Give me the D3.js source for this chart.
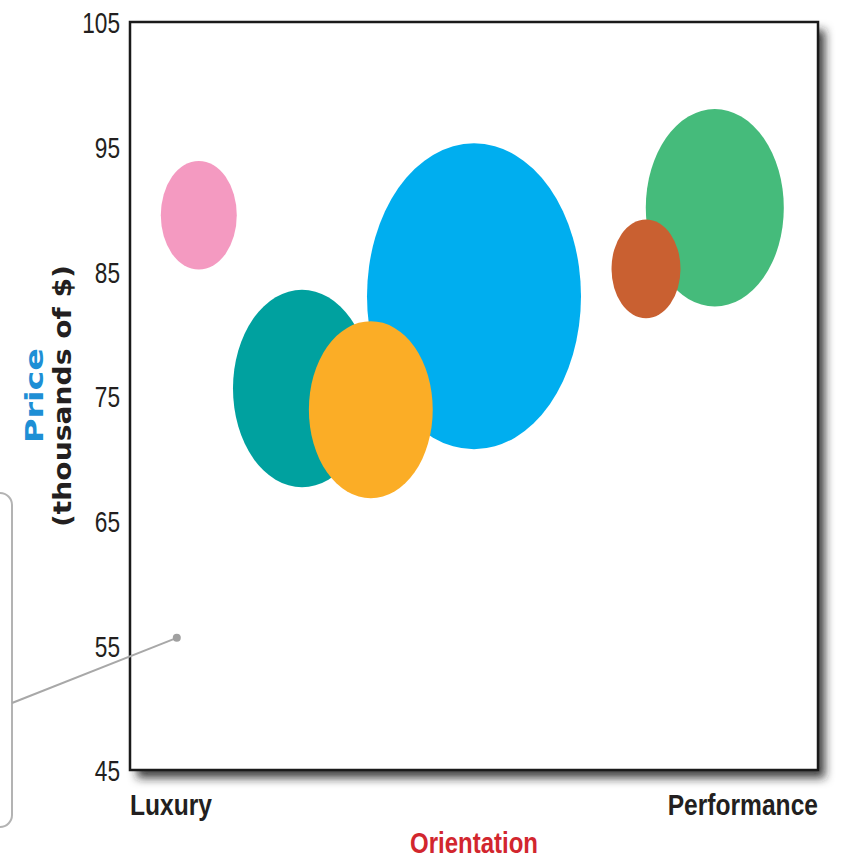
<!DOCTYPE html>
<html>
<head>
<meta charset="utf-8">
<script src="https://cdn.jsdelivr.net/npm/d3@7/dist/d3.min.js"></script>
<style>
  html, body { margin: 0; padding: 0; background: #fff; }
  svg { display: block; }
</style>
</head>
<body>
<svg id="chart" width="843" height="859"></svg>
<script>
// ---- data ----
const brands      = ["A", "B", "C", "D", "E", "F"];
const orientation = [10, 50, 25, 35, 85, 75];             // 0 = Luxury, 100 = Performance
const price       = [89.5, 83.0, 75.6, 73.9, 90.1, 85.2]; // thousands of $
const volume      = [12.6, 100, 41.6, 33.5, 41.6, 10.4];  // relative sales volume (bubble area)
const colors      = ["#f49ac1", "#00aeef", "#00a19f", "#fbad26", "#45bb7b", "#c96031"];
const yTicks      = [45, 55, 65, 75, 85, 95, 105];
const xLabels     = ["Luxury", "Performance"];
const calloutPoint = { orientation: 6.8, price: 55.6 };

// ---- layout ----
const svg = d3.select("#chart");
const M = { left: 130, right: 818, top: 22, bottom: 770 };
const x = d3.scaleLinear().domain([0, 100]).range([M.left, M.right]);
const y = d3.scaleLinear().domain([45, 105]).range([M.bottom, M.top]);
const r = d3.scaleSqrt().domain([0, 100]).range([0, 107]);
const aspect = 1.43;
const sans = "'Liberation Sans', Arial, sans-serif";

// drop shadow filter
const defs = svg.append("defs");
const f = defs.append("filter").attr("id", "shadow")
  .attr("x", "-10%").attr("y", "-10%").attr("width", "130%").attr("height", "130%");
f.append("feDropShadow").attr("dx", 7).attr("dy", 8).attr("stdDeviation", 5)
  .attr("flood-color", "#222").attr("flood-opacity", 0.85);

// callout box (partly off-canvas)
svg.append("rect")
  .attr("x", -40).attr("y", 493).attr("width", 52).attr("height", 334)
  .attr("rx", 12).attr("ry", 12)
  .attr("fill", "none").attr("stroke", "#b3b3b3").attr("stroke-width", 2);

// plot frame with shadow
svg.append("rect")
  .attr("x", M.left).attr("y", M.top)
  .attr("width", M.right - M.left).attr("height", M.bottom - M.top)
  .attr("fill", "#fff").attr("filter", "url(#shadow)");

// bubbles
const data = brands.map((b, i) => ({ b, o: orientation[i], p: price[i], v: volume[i], c: colors[i] }));
svg.append("g").selectAll("ellipse").data(data).join("ellipse")
  .attr("cx", d => x(d.o))
  .attr("cy", d => y(d.p))
  .attr("rx", d => r(d.v))
  .attr("ry", d => r(d.v) * aspect)
  .attr("fill", d => d.c);

// frame stroke on top
svg.append("rect")
  .attr("x", M.left).attr("y", M.top)
  .attr("width", M.right - M.left).attr("height", M.bottom - M.top)
  .attr("fill", "none").attr("stroke", "#1a1a1a").attr("stroke-width", 2.5);

// callout line and dot
svg.append("line")
  .attr("x1", 12).attr("y1", 703)
  .attr("x2", x(calloutPoint.orientation)).attr("y2", y(calloutPoint.price))
  .attr("stroke", "#a8a8a8").attr("stroke-width", 2);
svg.append("circle")
  .attr("cx", x(calloutPoint.orientation)).attr("cy", y(calloutPoint.price))
  .attr("r", 4).attr("fill", "#a0a0a0");

// y axis
const yAxis = d3.axisLeft(y).tickValues(yTicks).tickSize(0).tickPadding(10);
const gy = svg.append("g").attr("transform", `translate(${M.left},0)`).call(yAxis);
gy.select(".domain").remove();
gy.selectAll("text")
  .attr("font-family", sans)
  .attr("font-size", 30).attr("fill", "#231f20").attr("dy", "0.36em")
  .attr("textLength", d => String(d).length * 12.6)
  .attr("lengthAdjust", "spacingAndGlyphs");

// condensed label helper: horizontal squeeze via transform
function condensed(txt, xPos, yPos, anchor, sx, color) {
  return svg.append("text").text(txt)
    .attr("transform", `translate(${xPos},${yPos}) scale(${sx},1)`)
    .attr("text-anchor", anchor)
    .attr("font-family", sans).attr("font-weight", "bold").attr("font-size", 30)
    .attr("fill", color);
}

// x labels
condensed(xLabels[0], M.left, 815, "start", 0.82, "#231f20");
condensed(xLabels[1], M.right, 815, "end", 0.82, "#231f20");

// x title
condensed("Orientation", (M.left + M.right) / 2, 853, "middle", 0.80, "#d2262e");

// y title
const cy = (M.top + M.bottom) / 2;
svg.append("text").text("Price")
  .attr("transform", `translate(43,${cy + 47}) rotate(-90)`)
  .attr("font-family", "'DejaVu Sans', sans-serif").attr("font-weight", "bold").attr("font-size", 25)
  .attr("fill", "#1e8fd5").attr("textLength", 95).attr("lengthAdjust", "spacingAndGlyphs");
svg.append("text").text("(thousands of $)")
  .attr("transform", `translate(71,${cy + 131}) rotate(-90)`)
  .attr("font-family", "'DejaVu Sans', sans-serif").attr("font-weight", "bold").attr("font-size", 25)
  .attr("fill", "#231f20").attr("textLength", 262).attr("lengthAdjust", "spacingAndGlyphs");
</script>
</body>
</html>
